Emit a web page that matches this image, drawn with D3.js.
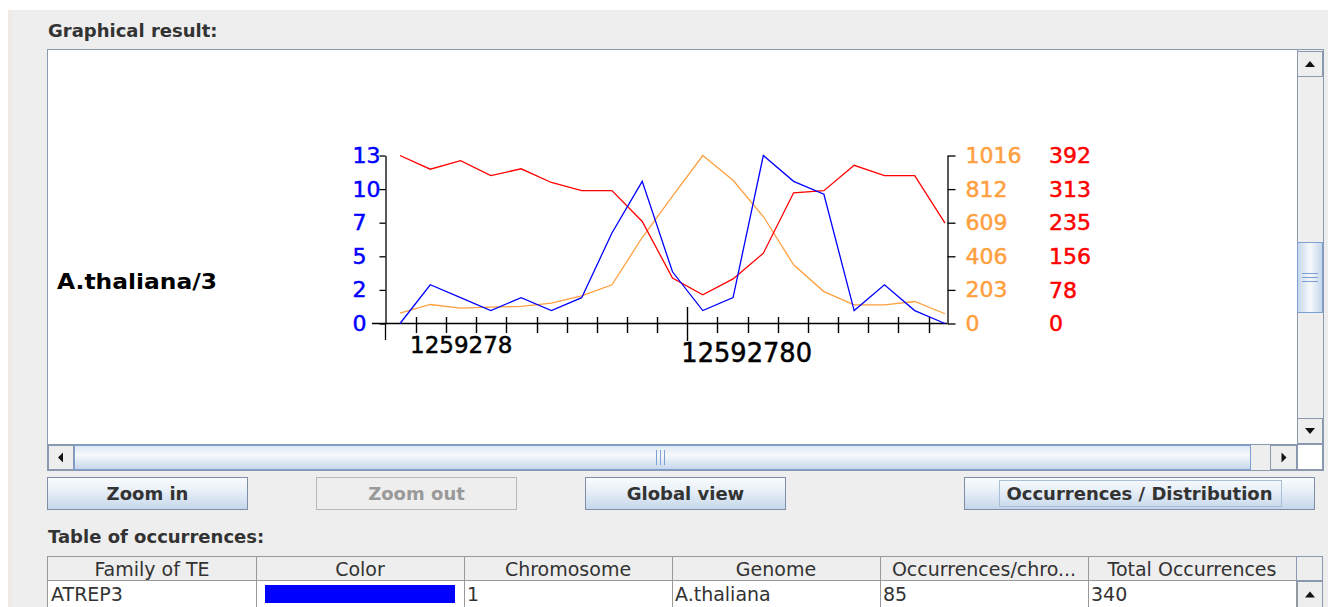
<!DOCTYPE html>
<html>
<head>
<meta charset="utf-8">
<script src="https://cdn.jsdelivr.net/npm/d3@7/dist/d3.min.js"></script>
<style>
  body { margin: 0; background: #fff; }
  svg { display: block; font-family: "DejaVu Sans", sans-serif; }
</style>
</head>
<body>
<svg id="ui" width="1328" height="607"></svg>
<script>
// ---- data ----
var windows = d3.range(19);   // sliding windows along the chromosome
var blueCounts   = [0, 3, 2, 1, 2, 1, 2, 7, 11, 4, 1, 2, 13, 11, 10, 1, 3, 1, 0];
var orangeCounts = [63, 115, 93, 99, 103, 123, 167, 234, 520, 770, 1016, 866, 647, 355, 193, 113, 113, 133, 59];
var redCounts    = [392, 360, 380, 345, 361, 329, 310, 310, 238, 106, 67, 104, 164, 305, 310, 369, 345, 345, 234];

var blueMax = 13, orangeMax = 1016, redMax = 392;
var blueTickLabels   = ["0", "2", "5", "7", "10", "13"];
var orangeTickLabels = ["0", "203", "406", "609", "812", "1016"];
var redTickLabels    = ["0", "78", "156", "235", "313", "392"];

var xTicks = d3.range(18);
var xLabelIdx  = [0, 9];
var xLabelText = ["1259278", "12592780"];
var majorTick = 9;

var seriesName = "A.thaliana/3";

var tableHeads = ["Family of TE", "Color", "Chromosome", "Genome", "Occurrences/chro...", "Total Occurrences"];
var tableRow   = ["ATREP3", "", "1", "A.thaliana", "85", "340"];

var buttons = [
  {label: "Zoom in", x: 47, w: 201, on: true},
  {label: "Zoom out", x: 316, w: 201, on: false},
  {label: "Global view", x: 585, w: 201, on: true},
  {label: "Occurrences / Distribution", x: 964, w: 351, on: true}
];

var BLUE = "#0000ff", ORANGE = "#ffa040", RED = "#ff0000";
var EDGE = "#8a99b0";

var svg = d3.select("#ui");
var defs = svg.append("defs");

function grad(id, horizontal, stops) {
  var g = defs.append("linearGradient").attr("id", id)
    .attr("x1", 0).attr("y1", 0)
    .attr("x2", horizontal ? 1 : 0).attr("y2", horizontal ? 0 : 1);
  stops.forEach(function(s) {
    g.append("stop").attr("offset", s[0]).attr("stop-color", s[1]);
  });
}
grad("btn", false, [[0, "#fbfcfe"], [0.45, "#e6eef7"], [1, "#c4d6ea"]]);
grad("hthumb", false, [[0, "#dde8f4"], [0.4, "#f6f9fc"], [1, "#c4d6ea"]]);
grad("vthumb", true, [[0, "#c4d6ea"], [0.5, "#f6f9fc"], [1, "#c4d6ea"]]);

// ---- window background ----
svg.append("rect").attr("width", 1328).attr("height", 607).attr("fill", "#eeeeee");
svg.append("rect").attr("width", 1328).attr("height", 10).attr("fill", "#ffffff");
svg.append("rect").attr("y", 10).attr("width", 8).attr("height", 597).attr("fill", "#ffffff");
svg.append("rect").attr("x", 8).attr("y", 10).attr("width", 4).attr("height", 597).attr("fill", "#efebe4");

svg.append("text").attr("x", 48).attr("y", 37)
  .attr("font-size", 18).attr("font-weight", "bold").attr("fill", "#333")
  .text("Graphical result:");

// scroll pane
svg.append("rect").attr("x", 47.5).attr("y", 49.5).attr("width", 1276).attr("height", 421)
  .attr("fill", "#ffffff").attr("stroke", EDGE);

function arrowBtn(x, y, w, h, dir) {
  svg.append("rect").attr("x", x + 0.5).attr("y", y + 0.5).attr("width", w - 1).attr("height", h - 1)
    .attr("fill", "#eeeeee").attr("stroke", EDGE);
  var cx = x + w / 2, cy = y + h / 2, s = 5;
  var pts = {
    up: [[cx - s, cy + 3], [cx + s, cy + 3], [cx, cy - 3]],
    down: [[cx - s, cy - 3], [cx + s, cy - 3], [cx, cy + 3]],
    left: [[cx + 2, cy - s], [cx + 2, cy + s], [cx - 3, cy]],
    right: [[cx - 2, cy - s], [cx - 2, cy + s], [cx + 3, cy]]
  }[dir];
  svg.append("path").attr("d", "M" + pts.join("L") + "Z").attr("fill", "#111");
}

// vertical scrollbar
svg.append("rect").attr("x", 1297).attr("y", 50).attr("width", 26).attr("height", 395).attr("fill", "#eeeeee");
svg.append("line").attr("x1", 1297.5).attr("x2", 1297.5).attr("y1", 50).attr("y2", 445).attr("stroke", EDGE);
arrowBtn(1297, 51, 26, 26, "up");
arrowBtn(1297, 418, 26, 26, "down");
svg.append("rect").attr("x", 1297.5).attr("y", 242.5).attr("width", 25).attr("height", 70)
  .attr("fill", "url(#vthumb)").attr("stroke", "#7c9fd4");
[273, 277, 281].forEach(function(y) {
  svg.append("line").attr("x1", 1302).attr("x2", 1318).attr("y1", y + 0.5).attr("y2", y + 0.5)
    .attr("stroke", "#7c9fd4");
});

// horizontal scrollbar
svg.append("rect").attr("x", 48).attr("y", 445).attr("width", 1249).attr("height", 25).attr("fill", "#eeeeee");
svg.append("line").attr("x1", 48).attr("x2", 1297).attr("y1", 444.5).attr("y2", 444.5).attr("stroke", EDGE);
arrowBtn(48, 445, 26, 25, "left");
arrowBtn(1270, 445, 27, 25, "right");
svg.append("rect").attr("x", 74.5).attr("y", 445.5).attr("width", 1176).attr("height", 24)
  .attr("fill", "url(#hthumb)").attr("stroke", "#7c9fd4");
[656, 660, 664].forEach(function(x) {
  svg.append("line").attr("x1", x + 0.5).attr("x2", x + 0.5).attr("y1", 450).attr("y2", 465)
    .attr("stroke", "#7c9fd4");
});
svg.append("rect").attr("x", 1297.5).attr("y", 444.5).attr("width", 25).attr("height", 25)
  .attr("fill", "#ffffff").attr("stroke", EDGE);

// ---- the chart ----
var x = d3.scaleLinear().domain([0, windows.length - 1]).range([400, 945]);
var xt = d3.scaleLinear().domain([0, xTicks.length - 1]).range([416, 928.5]);
var yBlue = d3.scaleLinear().domain([0, blueMax]).range([323.5, 155.5]);
var yOrange = d3.scaleLinear().domain([0, orangeMax]).range([323.5, 155.5]);
var yRed = d3.scaleLinear().domain([0, redMax]).range([323.5, 155.5]);
var frac = d3.range(6).map(function(i) { return i / 5; });

var chart = svg.append("g");

// left axis
var leftAxis = d3.axisLeft(yBlue)
  .tickValues(frac.map(function(f) { return f * blueMax; }))
  .tickFormat(function(d, i) { return blueTickLabels[i]; })
  .tickSize(6).tickSizeOuter(0);
var gl = chart.append("g").attr("transform", "translate(385.5,0)").call(leftAxis);
gl.select(".domain").attr("stroke", "#000").attr("stroke-width", 1.3);
gl.selectAll(".tick line").attr("stroke", "#000").attr("stroke-width", 1.3);
gl.selectAll(".tick text").attr("x", -33).attr("text-anchor", "start")
  .attr("font-family", "DejaVu Sans").attr("font-size", 22).attr("fill", BLUE)
  .attr("stroke", BLUE).attr("stroke-width", 0.5);
chart.append("line").attr("x1", 385.5).attr("x2", 385.5).attr("y1", 323).attr("y2", 340)
  .attr("stroke", "#000").attr("stroke-width", 1.3);

// right axis (orange) and red labels beside it
var rightAxis = d3.axisRight(yOrange)
  .tickValues(frac.map(function(f) { return f * orangeMax; }))
  .tickFormat(function(d, i) { return orangeTickLabels[i]; })
  .tickSize(8).tickSizeOuter(0);
var gr = chart.append("g").attr("transform", "translate(947.5,0)").call(rightAxis);
gr.select(".domain").attr("stroke", "#000").attr("stroke-width", 1.3);
gr.selectAll(".tick line").attr("stroke", "#000").attr("stroke-width", 1.3);
gr.selectAll(".tick text").attr("x", 18).attr("text-anchor", "start")
  .attr("font-family", "DejaVu Sans").attr("font-size", 22).attr("fill", ORANGE)
  .attr("stroke", ORANGE).attr("stroke-width", 0.5);

chart.selectAll("text.red").data(redTickLabels).enter().append("text")
  .attr("class", "red")
  .attr("x", 1049)
  .attr("y", function(d, i) { return yRed(frac[i] * redMax); })
  .attr("dy", "0.35em")
  .attr("font-size", 22).attr("fill", RED)
  .attr("stroke", RED).attr("stroke-width", 0.5)
  .text(function(d) { return d; });

// bottom axis
chart.append("line").attr("x1", 372).attr("x2", 947).attr("y1", 323.5).attr("y2", 323.5)
  .attr("stroke", "#000").attr("stroke-width", 1.3);
chart.selectAll("line.xtick").data(xTicks).enter().append("line")
  .attr("class", "xtick")
  .attr("x1", function(d) { return Math.round(xt(d)) + 0.5; })
  .attr("x2", function(d) { return Math.round(xt(d)) + 0.5; })
  .attr("y1", function(d) { return d === majorTick ? 307 : 317; })
  .attr("y2", function(d) { return d === majorTick ? 341 : 333; })
  .attr("stroke", "#000").attr("stroke-width", 1.4);
chart.selectAll("text.xlab").data(xLabelIdx).enter().append("text")
  .attr("class", "xlab")
  .attr("x", function(d) { return xt(d) - 6; })
  .attr("y", function(d) { return d === majorTick ? 362 : 353; })
  .attr("font-size", function(d) { return d === majorTick ? 25.7 : 23; })
  .attr("fill", "#000").attr("stroke", "#000").attr("stroke-width", 0.5)
  .text(function(d, i) { return xLabelText[i]; });

// lines
function drawLine(values, yScale, colour) {
  var line = d3.line()
    .x(function(d, i) { return x(windows[i]); })
    .y(function(d) { return yScale(d); });
  chart.append("path").attr("d", line(values))
    .attr("fill", "none").attr("stroke", colour).attr("stroke-width", 1.3);
}
drawLine(orangeCounts, yOrange, ORANGE);
drawLine(redCounts, yRed, RED);
drawLine(blueCounts, yBlue, BLUE);

svg.append("text").attr("x", 57).attr("y", 289)
  .attr("font-size", 22).attr("font-weight", "bold").attr("fill", "#000")
  .attr("textLength", 160).attr("lengthAdjust", "spacingAndGlyphs")
  .text(seriesName);

// ---- buttons ----
buttons.forEach(function(b) {
  svg.append("rect").attr("x", b.x + 0.5).attr("y", 477.5).attr("width", b.w - 1).attr("height", 32)
    .attr("fill", b.on ? "url(#btn)" : "#eeeeee")
    .attr("stroke", b.on ? "#7e8ea6" : "#b8b8b8");
  svg.append("text").attr("x", b.x + b.w / 2).attr("y", 500)
    .attr("text-anchor", "middle").attr("font-size", 18).attr("font-weight", "bold")
    .attr("fill", b.on ? "#333" : "#999")
    .text(b.label);
});
// focus ring on the last button
svg.append("rect").attr("x", 999.5).attr("y", 480.5).attr("width", 282).attr("height", 26)
  .attr("fill", "none").attr("stroke", "#a8bdd6");

svg.append("text").attr("x", 48).attr("y", 543)
  .attr("font-size", 18).attr("font-weight", "bold").attr("fill", "#333")
  .text("Table of occurrences:");

// ---- table ----
var colX = [48, 256, 464, 672, 880, 1088, 1296];
var table = svg.append("g");
table.append("rect").attr("x", 47.5).attr("y", 556.5).attr("width", 1249).attr("height", 24)
  .attr("fill", "#eeeeee").attr("stroke", "#999");
table.append("rect").attr("x", 47.5).attr("y", 580.5).attr("width", 1249).attr("height", 30)
  .attr("fill", "#ffffff").attr("stroke", "#999");
colX.slice(1, 6).forEach(function(cx) {
  table.append("line").attr("x1", cx + 0.5).attr("x2", cx + 0.5).attr("y1", 557).attr("y2", 607)
    .attr("stroke", "#999");
});
tableHeads.forEach(function(h, i) {
  table.append("text").attr("x", (colX[i] + colX[i + 1]) / 2).attr("y", 576)
    .attr("text-anchor", "middle").attr("font-size", 19).attr("fill", "#333").text(h);
});
tableRow.forEach(function(v, i) {
  table.append("text").attr("x", colX[i] + 3).attr("y", 601)
    .attr("font-size", 19).attr("fill", "#333").text(v);
});
table.append("rect").attr("x", 265).attr("y", 585).attr("width", 190).attr("height", 18).attr("fill", BLUE);
// table scroll column
table.append("rect").attr("x", 1296.5).attr("y", 556.5).attr("width", 26).attr("height", 24)
  .attr("fill", "#eeeeee").attr("stroke", EDGE);
arrowBtn(1297, 581, 26, 27, "up");
</script>
</body>
</html>
